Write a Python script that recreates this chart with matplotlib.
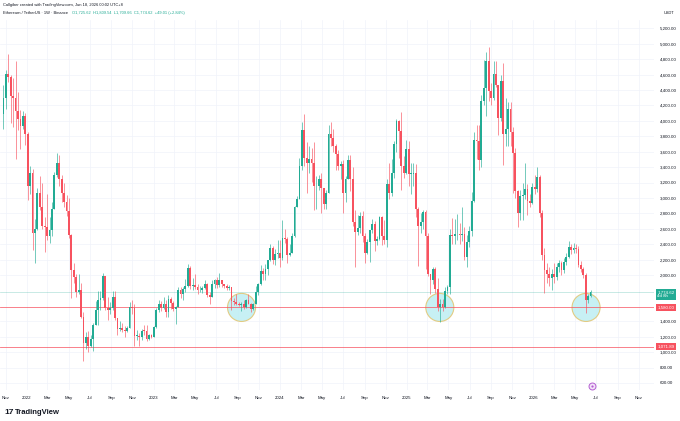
import numpy as np
import pandas as pd
import matplotlib
matplotlib.use("Agg")
import matplotlib.pyplot as plt
import matplotlib.dates as mdates
from matplotlib.patches import Ellipse

# Colores tipo TradingView
UP = "#22ab94"
DOWN = "#f7525f"
TEXT = "#131722"
GRID = "#f0f3fa"

plt.rcParams["font.family"] = ["Liberation Sans", "DejaVu Sans"]

# =============================================================================
# Datos: velas semanales ETH/USDT (lunes de cada semana)
# =============================================================================
first_week = "2021-10-25"
first_open = 4085.0

closes = [
    # 2021
    4290, 4610, 4570, 4320, 4300, 4130, 4020, 3930, 4060, 3830,
    # 2022
    3150, 3330, 2540, 2600, 3060, 2880, 2630, 2620, 2500, 2580,
    2860, 3300, 3450, 3250, 3060, 2950, 2830, 2520, 2070, 1970,
    1780, 1800, 1450, 1125, 1200, 1075, 1165, 1355, 1550, 1680,
    1700, 1985, 1575, 1550, 1575, 1720, 1440, 1295, 1310, 1290,
    1275, 1315, 1590, 1570, 1210, 1215, 1195, 1280, 1275, 1165,
    1220, 1196,
    # 2023
    1320, 1550, 1630, 1570, 1630, 1515, 1690, 1640, 1565, 1590,
    1800, 1750, 1820, 1860, 2090, 1860, 1870, 1850, 1800, 1810,
    1830, 1890, 1740, 1720, 1890, 1930, 1870, 1935, 1890, 1860,
    1830, 1850, 1665, 1645, 1630, 1615, 1630, 1590, 1670, 1630,
    1555, 1630, 1780, 1890, 2050, 2010, 2080, 2190, 2350, 2200,
    2270, 2290,
    # 2024
    2220, 2480, 2470, 2260, 2290, 2500, 2880, 2990, 3420, 3880,
    3520, 3450, 3500, 3450, 3150, 3150, 3250, 3130, 2920, 3070,
    3830, 3780, 3670, 3570, 3420, 3440, 3060, 3250, 3490, 3250,
    2690, 2560, 2610, 2770, 2510, 2280, 2430, 2580, 2660, 2440,
    2470, 2750, 2510, 2460, 3180, 3070, 3330, 3700, 4000, 3870,
    3420, 3330, 3630,
    # 2025
    3310, 3310, 3320, 2860, 2630, 2690, 2820, 2510, 2020, 1930,
    2080, 1820, 1580, 1620, 1590, 1790, 1840, 2520, 2500, 2530,
    2530, 2520, 2530, 2230, 2430, 2570, 2960, 3750, 3740, 3490,
    4260, 4430, 4780, 4390, 4290, 4610, 4460, 4040, 4520, 3830,
    3890, 4160, 3860, 3580, 3090, 2800, 3020, 3040, 3120, 2960,
    2930, 3140,
    # 2026
    3120, 3270, 2800, 2260, 2070, 2020, 1960, 2010, 1980, 2100,
    2150, 2060, 2170, 2240, 2360, 2320, 2350, 2340, 2130, 2080,
    2000, 1680, 1725.62, 1774.62,
]

highs = [
    # 2021
    4460, 4665, 4868, 4600, 4550, 4780, 4370, 4140, 4130, 4100,
    # 2022
    3850, 3420, 3380, 2730, 3130, 3280, 3200, 2750, 3050, 2750,
    2950, 3340, 3580, 3560, 3300, 3190, 3040, 3000, 2530, 2160,
    2020, 2020, 1900, 1520, 1255, 1280, 1220, 1380, 1660, 1790,
    1790, 2030, 1960, 1720, 1650, 1790, 1790, 1400, 1400, 1380,
    1340, 1345, 1650, 1680, 1620, 1290, 1250, 1300, 1350, 1350,
    1230, 1230,
    # 2023
    1340, 1570, 1680, 1660, 1710, 1680, 1740, 1720, 1665, 1600,
    1850, 1840, 1840, 1950, 2140, 2120, 1960, 2010, 1880, 1860,
    1860, 1930, 1900, 1780, 1930, 1950, 1970, 2030, 1920, 1890,
    1890, 1870, 1850, 1700, 1750, 1650, 1650, 1680, 1690, 1750,
    1640, 1640, 1860, 1900, 2130, 2090, 2140, 2200, 2400, 2380,
    2340, 2450,
    # 2024
    2450, 2720, 2600, 2490, 2400, 2540, 2890, 3030, 3520, 3990,
    4090, 3720, 3680, 3650, 3730, 3280, 3300, 3330, 3120, 3100,
    3950, 3980, 3890, 3700, 3620, 3480, 3490, 3280, 3560, 3560,
    3400, 2850, 2780, 2820, 2830, 2550, 2470, 2590, 2730, 2700,
    2510, 2760, 2770, 2720, 3250, 3450, 3500, 3740, 4020, 4010,
    4110, 3550, 3750,
    # 2025
    3740, 3450, 3450, 3440, 2880, 2800, 2850, 2850, 2550, 2000,
    2100, 2100, 1960, 1690, 1690, 1850, 1870, 2600, 2740, 2730,
    2790, 2680, 2880, 2620, 2520, 2630, 3080, 3860, 3940, 3940,
    4330, 4790, 4890, 4955, 4490, 4770, 4770, 4470, 4590, 4750,
    4290, 4250, 4250, 3920, 3650, 3100, 3100, 3200, 3450, 3180,
    3050, 3200,
    # 2026
    3300, 3400, 3300, 2850, 2350, 2150, 2100, 2080, 2150, 2150,
    2200, 2180, 2220, 2290, 2440, 2400, 2420, 2400, 2380, 2180,
    2110, 2030, 1760, 1809.54,
]

lows = [
    # 2021
    3900, 4150, 4500, 3970, 3920, 3500, 3880, 3640, 3890, 3690,
    # 2022
    2970, 3050, 2330, 2160, 2580, 2850, 2600, 2300, 2450, 2420,
    2500, 2860, 3270, 3160, 2950, 2880, 2760, 2480, 1700, 1900,
    1720, 1750, 1440, 880, 1040, 1000, 1070, 1010, 1350, 1355,
    1550, 1680, 1550, 1420, 1500, 1550, 1420, 1220, 1270, 1265,
    1190, 1260, 1320, 1500, 1075, 1160, 1075, 1160, 1220, 1150,
    1160, 1180,
    # 2023
    1190, 1310, 1520, 1530, 1560, 1460, 1460, 1560, 1530, 1370,
    1580, 1700, 1680, 1780, 1850, 1820, 1800, 1820, 1750, 1780,
    1770, 1820, 1710, 1620, 1720, 1830, 1830, 1840, 1850, 1830,
    1810, 1800, 1550, 1610, 1610, 1600, 1530, 1560, 1570, 1620,
    1520, 1550, 1640, 1740, 1870, 1930, 1930, 2000, 2180, 2140,
    2130, 2220,
    # 2024
    2100, 2200, 2420, 2160, 2250, 2280, 2490, 2880, 2990, 3360,
    3420, 3060, 3330, 3210, 2850, 2860, 3100, 2810, 2860, 2860,
    3070, 3680, 3600, 3360, 3360, 3240, 2810, 2950, 3240, 3090,
    2630, 2110, 2520, 2540, 2430, 2150, 2270, 2170, 2550, 2310,
    2390, 2460, 2390, 2400, 2360, 2990, 3020, 3260, 3600, 3520,
    3100, 3260, 3310,
    # 2025
    3160, 3050, 3150, 2750, 2120, 2550, 2600, 2080, 1990, 1750,
    1880, 1770, 1540, 1385, 1540, 1570, 1750, 1750, 2400, 2400,
    2460, 2400, 2440, 2200, 2110, 2370, 2500, 2950, 3510, 3360,
    3400, 4200, 4060, 4260, 4200, 4270, 4440, 3815, 4000, 3430,
    3680, 3680, 3680, 3060, 3000, 2620, 2720, 2720, 2980, 2780,
    2880, 2920,
    # 2026
    3050, 3080, 2750, 2200, 1770, 1900, 1860, 1810, 1900, 1940,
    2040, 2000, 2030, 2130, 2220, 2270, 2280, 2280, 2100, 2040,
    1960, 1510, 1640, 1709.66,
]

# Niveles de soporte y zonas marcadas
support_levels = [1580.00, 1071.89]
support_labels = ["1,580.00", "1,071.89"]
circle_dates = ["2023-09-12", "2025-04-06", "2026-06-02"]
circle_price = 1580

last_price_label = "1,774.62\n4d 8h"

# =============================================================================
# Preparación
# =============================================================================
dates = pd.date_range(first_week, periods=len(closes), freq="7D")
x = mdates.date2num(dates)
c = np.array(closes, dtype=float)
o = np.concatenate([[first_open], c[:-1]])
h = np.maximum(np.array(highs, dtype=float), np.maximum(o, c))
l = np.minimum(np.array(lows, dtype=float), np.minimum(o, c))
up = c >= o
colors = np.where(up, UP, DOWN)

# =============================================================================
# Figura
# =============================================================================
fig = plt.figure(figsize=(6.8, 4.21), dpi=100)
fig.patch.set_facecolor("white")
ax = fig.add_axes([0, 31 / 421, 654 / 680, 370 / 421])
ax.set_facecolor("white")

x_left = mdates.date2num(pd.Timestamp("2022-01-01")) - 27 / 0.3466
x_right = mdates.date2num(pd.Timestamp("2022-01-01")) + (654 - 27) / 0.3466
ax.set_xlim(x_left, x_right)
ax.set_ylim(509, 5308)

# zonas circulares
for d in circle_dates:
    cx = mdates.date2num(pd.Timestamp(d))
    ax.add_patch(Ellipse((cx, circle_price), width=2 * 40.5, height=2 * 182,
                         facecolor="#bdeef3", edgecolor="#e2c46e", lw=0.8,
                         alpha=0.85, zorder=1))

# líneas horizontales
for lvl in support_levels:
    ax.axhline(lvl, color=DOWN, lw=0.6, alpha=0.85, zorder=2)
ax.axhline(c[-1], color=UP, lw=0.5, alpha=0.35, zorder=2)

# velas
ax.vlines(x, l, h, colors=colors, lw=0.55, alpha=0.8, zorder=3)
body = np.maximum(np.abs(c - o), 8)
ax.bar(x, body, bottom=np.minimum(o, c), width=5.2, color=colors,
       linewidth=0, zorder=4)

# ejes
yticks = [v for v in range(600, 5201, 200) if v not in (1600, 1800)]
ax.set_yticks(yticks)
ax.set_yticklabels([f"{v:,.2f}" for v in yticks])
xticks = pd.date_range("2021-11-01", "2026-11-01", freq="2MS")
ax.set_xticks(mdates.date2num(xticks))
ax.set_xticklabels([str(t.year) if t.month == 1 else t.strftime("%b") for t in xticks])

ax.yaxis.tick_right()
ax.tick_params(axis="y", length=0, labelsize=3.2, labelcolor=TEXT, pad=4)
ax.tick_params(axis="x", length=0, labelsize=3.2, labelcolor=TEXT, pad=4)
ax.grid(color=GRID, lw=0.5)
ax.set_axisbelow(True)
for s in ax.spines.values():
    s.set_visible(False)

# etiquetas de precio en el eje
ytr = ax.get_yaxis_transform()
for lvl, lab in zip(support_levels, support_labels):
    ax.text(1.005, lvl, lab, transform=ytr, ha="left", va="center",
            fontsize=3.2, color="white", zorder=6, clip_on=False,
            bbox=dict(boxstyle="square,pad=0.35", facecolor=DOWN, edgecolor="none"))
ax.text(1.005, c[-1] - 25, last_price_label, transform=ytr, ha="left", va="center",
        fontsize=3.2, color="white", zorder=6, clip_on=False, linespacing=1.1,
        bbox=dict(boxstyle="square,pad=0.35", facecolor=UP, edgecolor="none"))

# marcador de evento (morado)
ev_x = mdates.date2num(pd.Timestamp("2026-06-19"))
ax.plot([ev_x], [561], marker="o", ms=5, mfc="#f4e3f9", mec="#b35fd1", mew=0.7,
        zorder=6, clip_on=False)
ax.plot([ev_x], [561], marker="o", ms=1.6, mfc="#b35fd1", mec="none",
        zorder=7, clip_on=False)

# textos de cabecera
fig.text(3 / 680, 1 - 5 / 421, "Callgiber created with TradingView.com, Jun 18, 2026 00:02 UTC+8",
         fontsize=2.9, color=TEXT, va="center", ha="left")
fig.text(3 / 680, 1 - 13 / 421, "Ethereum / TetherUS · 1W · Binance",
         fontsize=2.9, color=TEXT, va="center", ha="left")
fig.text(72 / 680, 1 - 13 / 421,
         "O1,725.62  H1,809.54  L1,709.66  C1,774.62  +49.01 (+2.84%)",
         fontsize=2.9, color=UP, va="center", ha="left")
fig.text(664 / 680, 1 - 13 / 421, "USDT", fontsize=2.9, color=TEXT, va="center", ha="left")

# logo
fig.text(4 / 680, 1 - 412 / 421, "17", fontsize=6, fontweight="bold", color=TEXT,
         va="center", ha="left")
fig.text(15 / 680, 1 - 412 / 421, "TradingView", fontsize=5.5, fontweight="semibold",
         color=TEXT, va="center", ha="left")

fig.savefig("out.png", dpi=100, facecolor="white")
